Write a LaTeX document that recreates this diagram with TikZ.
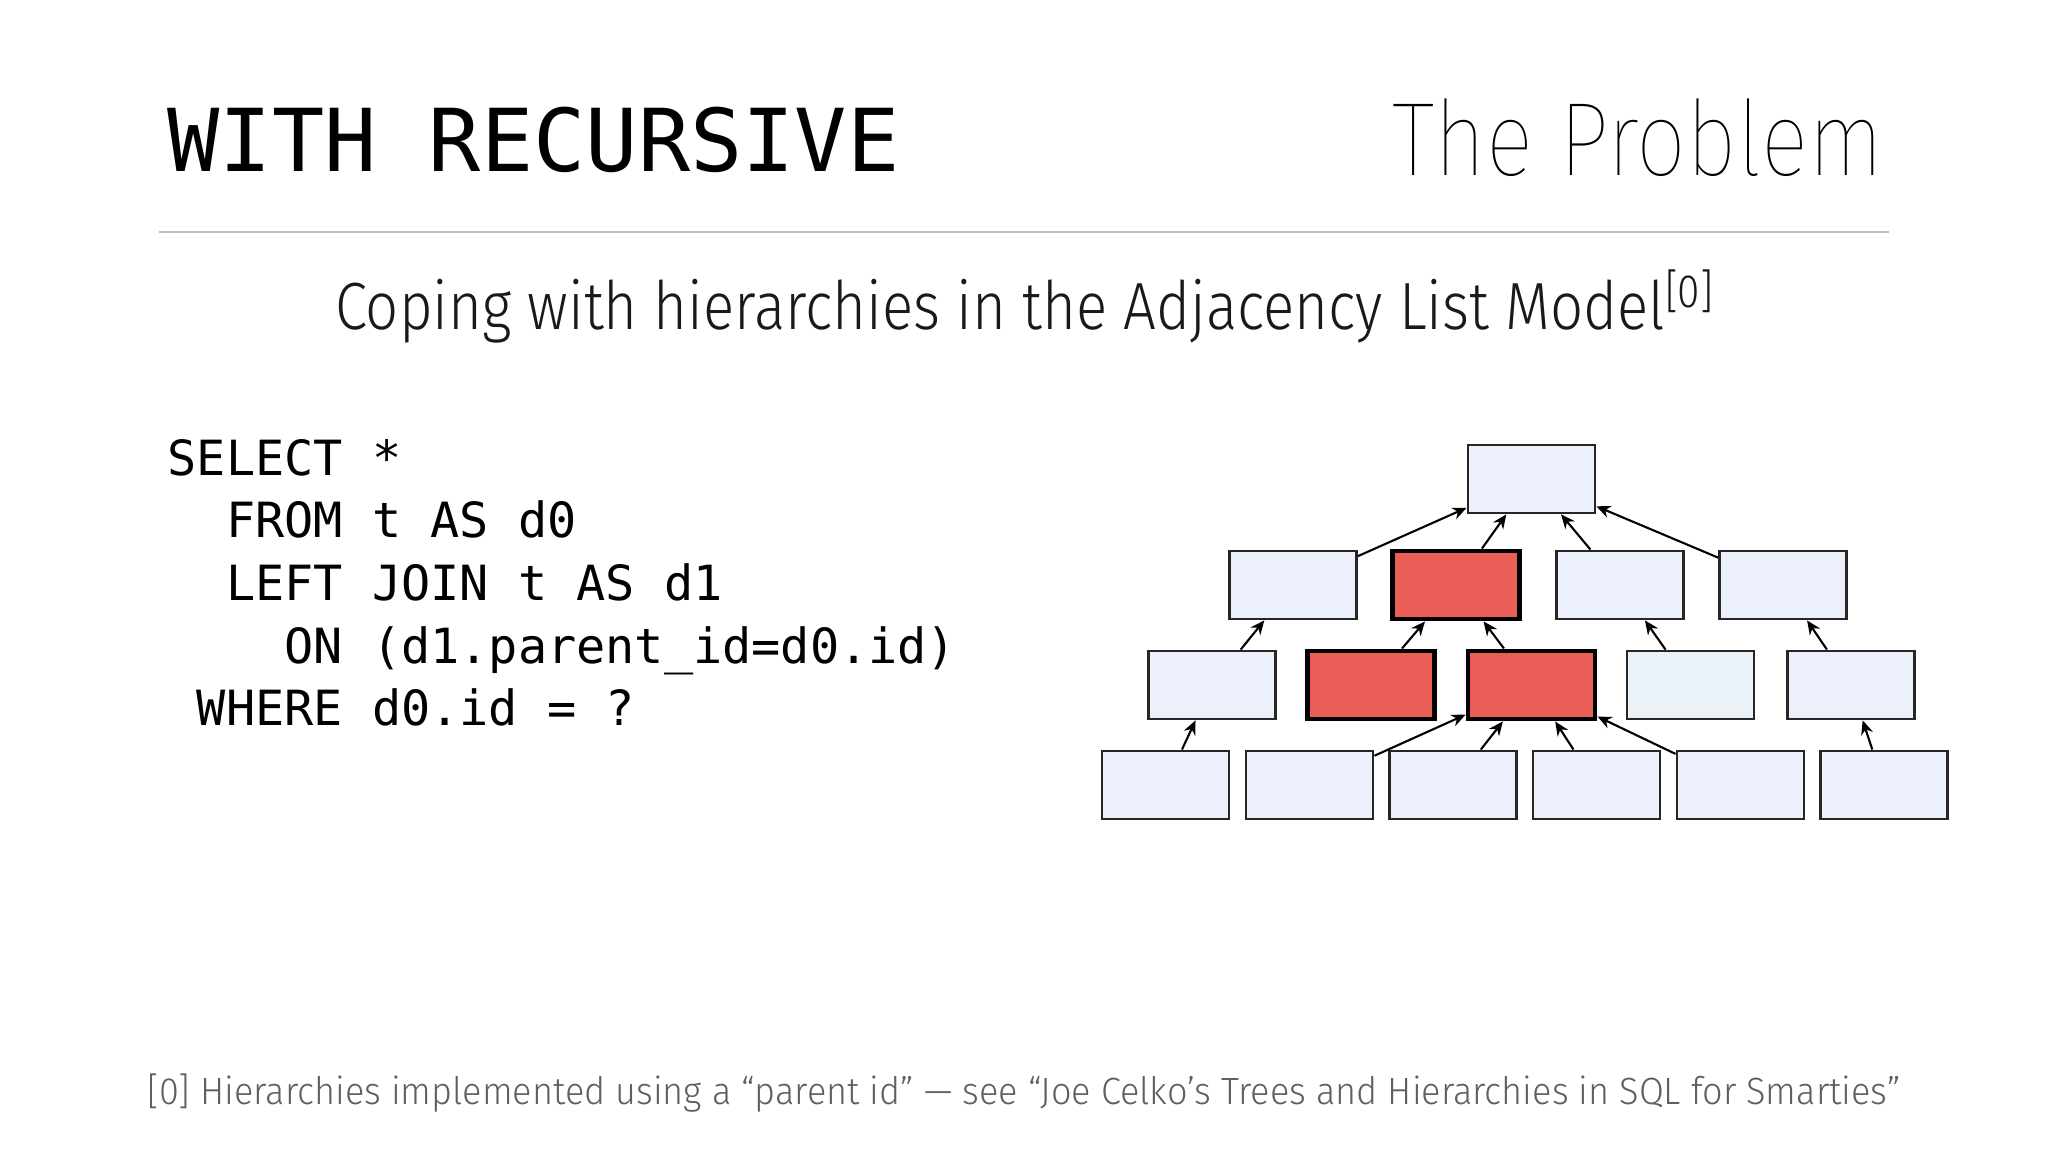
\documentclass[tikz,border=0pt]{standalone}
\usepackage{fontspec}
\setmonofont{DejaVu Sans Mono}
\newfontfamily\subfont[FakeStretch=0.87]{Fira Sans Light}
\newfontfamily\notefont[FakeStretch=0.95]{Fira Sans Light}
\newfontfamily\hairfont[FakeStretch=0.85]{Fira Sans Thin}
\usetikzlibrary{arrows.meta}
\definecolor{boxblue}{RGB}{235,240,250}
\definecolor{boxcyan}{RGB}{234,242,248}
\definecolor{boxred}{RGB}{234,94,88}
\definecolor{rulegray}{RGB}{190,190,190}
\definecolor{notegray}{RGB}{95,95,95}

\begin{document}
\begin{tikzpicture}[
		row/.style={draw=black!85, line width=0.8pt, fill=boxblue, minimum width=1.27cm, minimum height=0.68cm, inner sep=0pt},
		hot/.style={row, fill=boxred, draw=black, line width=1.4pt},
		link/.style={-{Stealth[length=4pt, width=3.5pt]}, line width=0.6pt}]
			\useasboundingbox (0, 0) rectangle (20.48, 11.52);

			% heading
			\node[anchor=base west, inner sep=0pt] (title) at (1.67, 9.80) {\ttfamily\fontsize{24.7}{30}\selectfont WITH RECURSIVE};
			\node[anchor=base east, inner sep=0pt] (topic) at (18.84, 9.76) {\hairfont\fontsize{29.7}{36}\selectfont The Problem};
			\draw[rulegray, line width=0.6pt](1.59, 9.20)--(18.89, 9.20);
			\node[anchor=base, inner sep=0pt, text=black!90] (sub) at (10.25, 8.22) {\subfont\fontsize{19}{23}\selectfont Coping with hierarchies in the Adjacency List Model\textsuperscript{[0]}};

			% query (base = last line)
			\node[anchor=base west, inner sep=0pt, align=left, font=\ttfamily\fontsize{13.8}{17.84}\selectfont] (query) at (1.67, 4.26) {SELECT *\\
				\phantom{XX}FROM t AS d0\\
				\phantom{XX}LEFT JOIN t AS d1\\
				\phantom{XXXX}ON (d1.parent\_id=d0.id)\\
				\phantom{X}WHERE d0.id = ?};

			% tree
			\node[row] (root) at (15.315, 6.73) {};
			\node[row] (a1) at (12.93, 5.67) {};
			\node[hot] (a2) at (14.56, 5.67) {};
			\node[row] (a3) at (16.20, 5.67) {};
			\node[row] (a4) at (17.83, 5.67) {};
			\node[row] (b1) at (12.12, 4.67) {};
			\node[hot] (b2) at (13.71, 4.67) {};
			\node[hot] (b3) at (15.315, 4.67) {};
			\node[row, fill=boxcyan] (b4) at (16.905, 4.67) {};
			\node[row] (b5) at (18.51, 4.67) {};
			\node[row] (c1) at (11.655, 3.67) {};
			\node[row] (c2) at (13.095, 3.67) {};
			\node[row] (c3) at (14.53, 3.67) {};
			\node[row] (c4) at (15.965, 3.67) {};
			\node[row] (c5) at (17.405, 3.67) {};
			\node[row] (c6) at (18.84, 3.67) {};

			\draw[link](a1)--(root);
			\draw[link](a2)--(root);
			\draw[link](a3)--(root);
			\draw[link](a4)--(root);
			\draw[link](b1)--(a1);
			\draw[link](b2)--(a2);
			\draw[link](b3)--(a2);
			\draw[link](b4)--(a3);
			\draw[link](b5)--(a4);
			\draw[link](c1)--(b1);
			\draw[link](c2)--(b3);
			\draw[link](c3)--(b3);
			\draw[link](c4)--(b3);
			\draw[link](c5)--(b3);
			\draw[link](c6)--(b5);

			% footnote
			\node[anchor=base, inner sep=0pt, text=notegray] (note) at (10.24, 0.47) {\notefont\fontsize{10.8}{13}\selectfont [0] Hierarchies implemented using a “parent id” — see “Joe Celko’s Trees and Hierarchies in SQL for Smarties”};
		\end{tikzpicture}
\end{document}
